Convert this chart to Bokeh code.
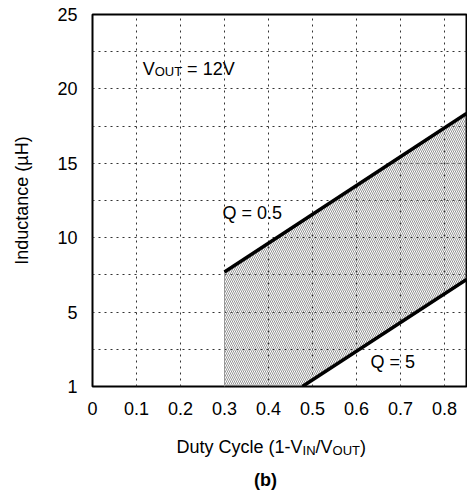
from bokeh.plotting import figure
from bokeh.models import FixedTicker, Label, Range1d
from bokeh.layouts import column
from bokeh.embed import file_html
from bokeh.resources import INLINE

# ---- data ----
duty_q05 = [0.30, 0.85]      # Q = 0.5 boundary
ind_q05 = [7.7, 18.35]
duty_q5 = [0.477, 0.85]      # Q = 5 boundary
ind_q5 = [0.0, 7.2]

x_ticks = [0, 0.1, 0.2, 0.3, 0.4, 0.5, 0.6, 0.7, 0.8]
x_tick_labels = ["0", "0.1", "0.2", "0.3", "0.4", "0.5", "0.6", "0.7", "0.8"]
y_ticks = [0, 5, 10, 15, 20, 25]
y_tick_labels = ["1", "5", "10", "15", "20", "25"]
x_grid = [0.1, 0.2, 0.3, 0.4, 0.5, 0.6, 0.7, 0.8]
y_grid = [2.5, 5, 7.5, 10, 12.5, 15, 17.5, 20, 22.5]

FONT = "Liberation Sans"
X_RANGE = Range1d(0, 0.85)
LIFT = 5  # px correction for baseline placement

p = figure(width=467, height=422, x_range=X_RANGE, y_range=Range1d(0, 25),
           output_backend="svg", toolbar_location=None,
           min_border_left=92, min_border_right=1, min_border_top=14, min_border_bottom=36)

p.outline_line_color = "black"
p.outline_line_width = 2
p.outline_line_alpha = 1

for ax in (p.xaxis, p.yaxis):
    ax.axis_line_color = None
    ax.major_tick_line_color = None
    ax.minor_tick_line_color = None
    ax.major_tick_out = 0
    ax.major_tick_in = 0
    ax.minor_tick_out = 0
    ax.minor_tick_in = 0
    ax.major_label_text_font = FONT
    ax.major_label_text_font_size = "18px"
    ax.major_label_text_color = "black"

p.xaxis.ticker = FixedTicker(ticks=x_ticks)
p.xaxis.major_label_overrides = {t: l for t, l in zip(x_ticks, x_tick_labels)}
p.xaxis.major_label_standoff = 15
p.yaxis.ticker = FixedTicker(ticks=y_ticks)
p.yaxis.major_label_overrides = {t: l for t, l in zip(y_ticks, y_tick_labels)}
p.yaxis.major_label_standoff = 15
p.yaxis.axis_label = "Inductance (µH)"
p.yaxis.axis_label_text_font = FONT
p.yaxis.axis_label_text_font_size = "18px"
p.yaxis.axis_label_text_font_style = "normal"
p.yaxis.axis_label_text_color = "black"
p.yaxis.axis_label_standoff = 22

p.xgrid.ticker = FixedTicker(ticks=x_grid)
p.ygrid.ticker = FixedTicker(ticks=y_grid)
for g in (p.xgrid, p.ygrid):
    g.grid_line_color = "#333333"
    g.grid_line_dash = "2 4"
    g.grid_line_width = 1
    g.grid_line_alpha = 1

# hatched region between the two Q curves
xs = [duty_q05[0]] + duty_q05 + duty_q5[::-1]
ys = [ind_q5[0]] + ind_q05 + ind_q5[::-1]
p.patch(xs, ys, fill_alpha=0, line_color=None,
        hatch_pattern="\\", hatch_color="#666666", hatch_scale=4, hatch_weight=0.7)
p.line([duty_q05[0], duty_q05[0]], [ind_q5[0], ind_q05[0]], line_color="#999999", line_width=1)
p.line(duty_q05, ind_q05, line_color="black", line_width=3.5)
p.line(duty_q5, ind_q5, line_color="black", line_width=3.5)

# ---- lower strip for the x-axis title (shares the x scale) ----
p2 = figure(width=467, height=69, x_range=X_RANGE, y_range=Range1d(69, 0),
            output_backend="svg", toolbar_location=None, x_axis_type=None, y_axis_type=None,
            min_border_left=92, min_border_right=1, min_border_top=0, min_border_bottom=0)
p2.outline_line_color = None
p2.xgrid.visible = False
p2.ygrid.visible = False

# ---- rich text helper (Arial / Liberation Sans metrics) ----
W = {' ': 278, '=': 584, '0': 556, '1': 556, '2': 556, '5': 556, '.': 278, 'V': 667,
     'O': 778, 'U': 722, 'T': 611, 'I': 278, 'N': 722, '/': 278, '(': 333, ')': 333,
     '-': 333, 'D': 722, 'u': 556, 't': 278, 'y': 500, 'C': 722, 'c': 500, 'l': 222,
     'e': 556, 'Q': 778}


def width(s, size):
    return sum(W.get(ch, 556) for ch in s) * size / 1000.0


def rich(fig, parts, x, y):
    off = 0.0
    for text, size, dy in parts:
        stripped = text.lstrip(" ")
        off += width(text[:len(text) - len(stripped)], size)
        fig.add_layout(Label(x=x, y=y, x_offset=off, y_offset=dy + LIFT, text=stripped,
                             text_font=FONT, text_font_size=f"{size}px",
                             text_baseline="alphabetic", text_align="left",
                             text_color="black"))
        off += width(stripped, size)


rich(p, [("V", 18, 0), ("OUT", 13, -3), (" = 12V", 18, 0)], 0.114, 21.03)
rich(p, [("Q = 0.5", 18, 0)], 0.2955, 11.3)
rich(p, [("Q = 5", 18, 0)], 0.632, 1.34)
rich(p2, [("Duty Cycle (1-V", 18, 0), ("IN", 13, -3), ("/V", 18, 0), ("OUT", 13, -3), (")", 18, 0)],
     0.191, 29.5)
p2.add_layout(Label(x=0.393, y=62, y_offset=LIFT, text="(b)", text_font=FONT, text_font_size="18px",
                    text_font_style="bold", text_align="center", text_baseline="alphabetic",
                    text_color="black"))

layout = column(p, p2, spacing=0)
open("out.html", "w").write(file_html(layout, INLINE))
